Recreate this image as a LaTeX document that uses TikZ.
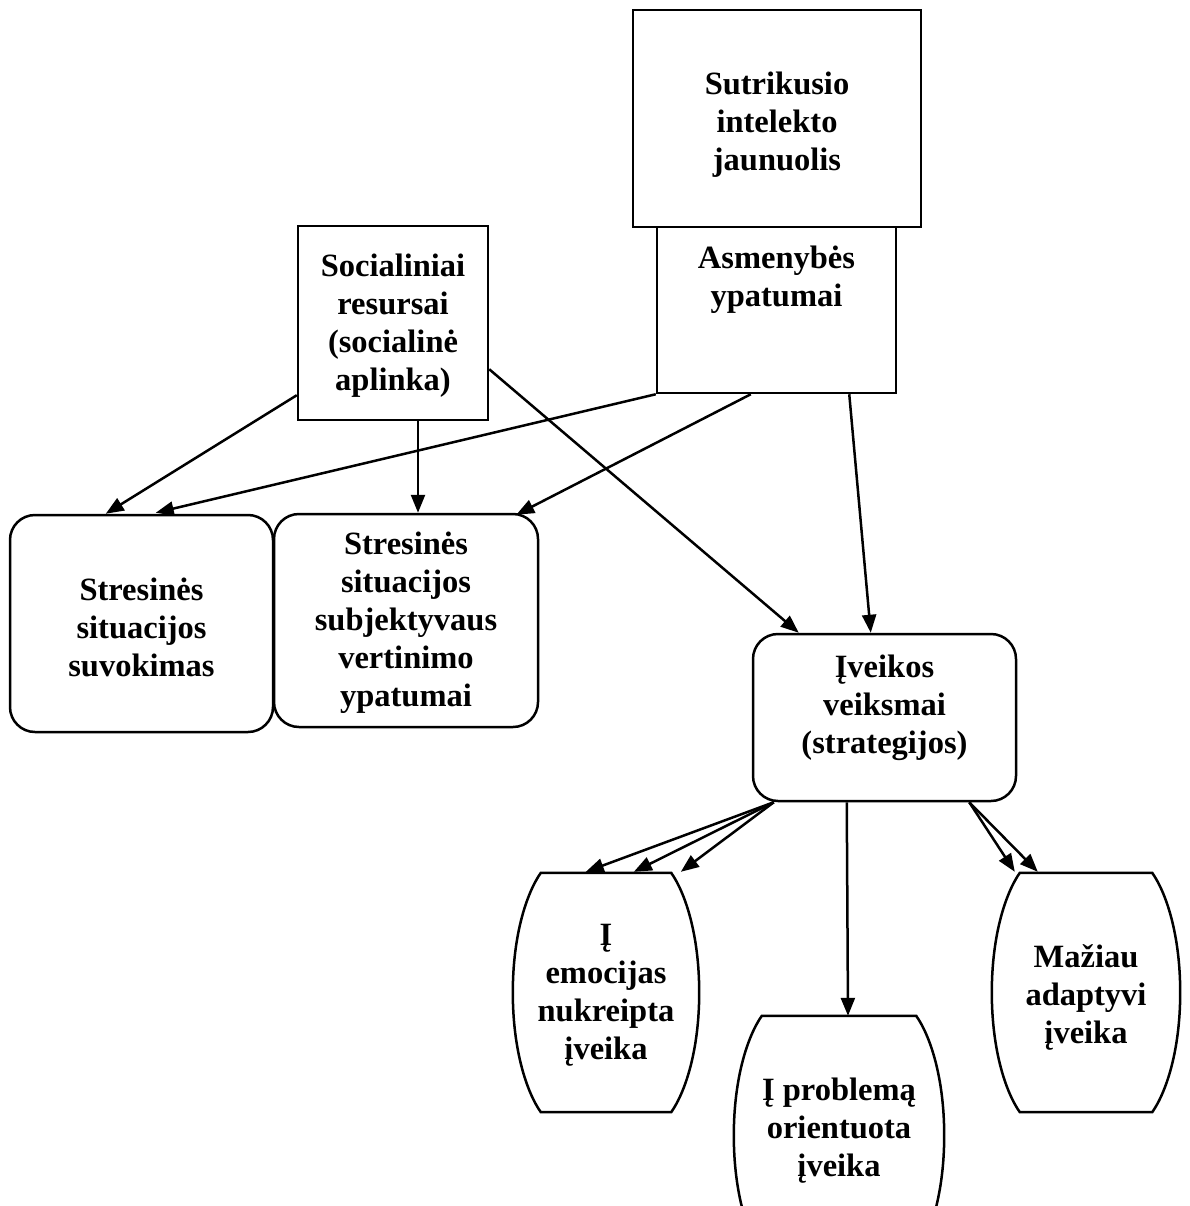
\documentclass[tikz,border=0pt]{standalone}
\usepackage{fontspec}
\setmainfont{Liberation Serif}
\usetikzlibrary{arrows.meta,calc}
\newcommand\barrelshape[1]{%
  \draw[outline] ([xshift=28pt]#1.north west) -- ([xshift=-28pt]#1.north east)
    .. controls ([xshift=-14pt,yshift=-20pt]#1.north east) and ([yshift=58pt]#1.east) .. (#1.east)
    .. controls ([yshift=-58pt]#1.east) and ([xshift=-14pt,yshift=20pt]#1.south east) .. ([xshift=-28pt]#1.south east)
    -- ([xshift=28pt]#1.south west)
    .. controls ([xshift=14pt,yshift=20pt]#1.south west) and ([yshift=-58pt]#1.west) .. (#1.west)
    .. controls ([yshift=58pt]#1.west) and ([xshift=14pt,yshift=-20pt]#1.north west) .. ([xshift=28pt]#1.north west)
    -- cycle;}
\begin{document}
\begin{tikzpicture}[x=1pt,y=-1pt,
  txt/.style={font=\bfseries\fontsize{32.5}{38}\selectfont, align=center, inner sep=0pt},
  outline/.style={line width=2.5pt, draw=black},
  sqbox/.style={txt, outline, rectangle, draw},
  rbox/.style={txt, outline, rectangle, rounded corners=25pt, draw},
  barrel/.style={txt, rectangle, draw=none},
  arr/.style={line width=2.5pt, -{Triangle[length=18pt,width=14pt]}}]
\useasboundingbox (0,0) rectangle (1189,1206);
\clip (0,0) rectangle (1189,1206);
\fill[white] (0,0) rectangle (1189,1206);

% top squares
\node[sqbox, minimum width=288pt, minimum height=217pt] (sut) at (777,118.5) {};
\node[txt] (sutt) at (777,124.5) {Sutrikusio\\intelekto\\jaunuolis};
\node[sqbox, minimum width=239pt, minimum height=166pt] (asm) at (776.5,310) {};
\node[txt, anchor=north] (asmt) at ([yshift=-20pt]asm.north) {Asmenybės\\ypatumai};
\node[sqbox, minimum width=190pt, minimum height=194pt] (soc) at (393,323) {};
\node[txt] (soct) at (393,326) {Socialiniai\\resursai\\(socialinė\\aplinka)};

% rounded boxes
\node[rbox, minimum width=263pt, minimum height=217pt] (sit1) at (141.5,623.5) {};
\node[txt] (sit1t) at (141.5,627.5) {Stresinės\\situacijos\\suvokimas};
\node[rbox, minimum width=264pt, minimum height=213pt] (sit2) at (406,620.5) {};
\node[txt] (sit2t) at (406,623) {Stresinės\\situacijos\\subjektyvaus\\vertinimo\\ypatumai};
\node[rbox, minimum width=263pt, minimum height=167pt] (ive) at (884.5,717.5) {};
\node[txt] (ivet) at (884.5,707.5) {Įveikos\\veiksmai\\(strategijos)};

% barrels
\node[barrel, minimum width=186pt, minimum height=239pt] (emo) at (606,992.5) {};
\node[txt] (emot) at (606,995) {Į\\emocijas\\nukreipta\\įveika};
\barrelshape{emo}
\node[barrel, minimum width=210pt, minimum height=239pt] (prob) at (839,1135.5) {};
\node[txt] (probt) at (839,1131) {Į problemą\\orientuota\\įveika};
\barrelshape{prob}
\node[barrel, minimum width=188pt, minimum height=239pt] (maz) at (1086,992.5) {};
\node[txt] (mazt) at (1086,997.5) {Mažiau\\adaptyvi\\įveika};
\barrelshape{maz}

% connectors
\draw[arr] ([yshift=26pt]soc.south west) -- ([xshift=97pt]sit1.north west);
\draw[arr] (asm.south west) -- ([xshift=147pt,yshift=1pt]sit1.north west);
\draw[arr] ([xshift=25pt]soc.south) -- ([xshift=12pt]sit2.north);
\draw[arr] ([xshift=95pt]asm.south west) -- ([xshift=-23pt,yshift=-2pt]sit2.north east);
\draw[arr] ([yshift=52pt]soc.south east) -- ([xshift=47pt]ive.north west);
\draw[arr] ([xshift=-48pt]asm.south east) -- ([xshift=119pt]ive.north west);

\coordinate (ivl) at ([xshift=22pt]ive.south west);
\draw[arr] (ivl) -- ([xshift=73pt,yshift=1pt]emo.north west);
\draw[arr] (ivl) -- ([xshift=121pt,yshift=1pt]emo.north west);
\draw[arr] (ivl) -- ([xshift=168pt,yshift=1pt]emo.north west);
\draw[arr] ([xshift=95pt]ive.south west) -- ([xshift=9pt]prob.north);
\coordinate (ivr) at ([xshift=-48pt]ive.south east);
\draw[arr] (ivr) -- ([xshift=23pt,yshift=1pt]maz.north west);
\draw[arr] (ivr) -- ([xshift=46pt,yshift=1pt]maz.north west);
\end{tikzpicture}
\end{document}
